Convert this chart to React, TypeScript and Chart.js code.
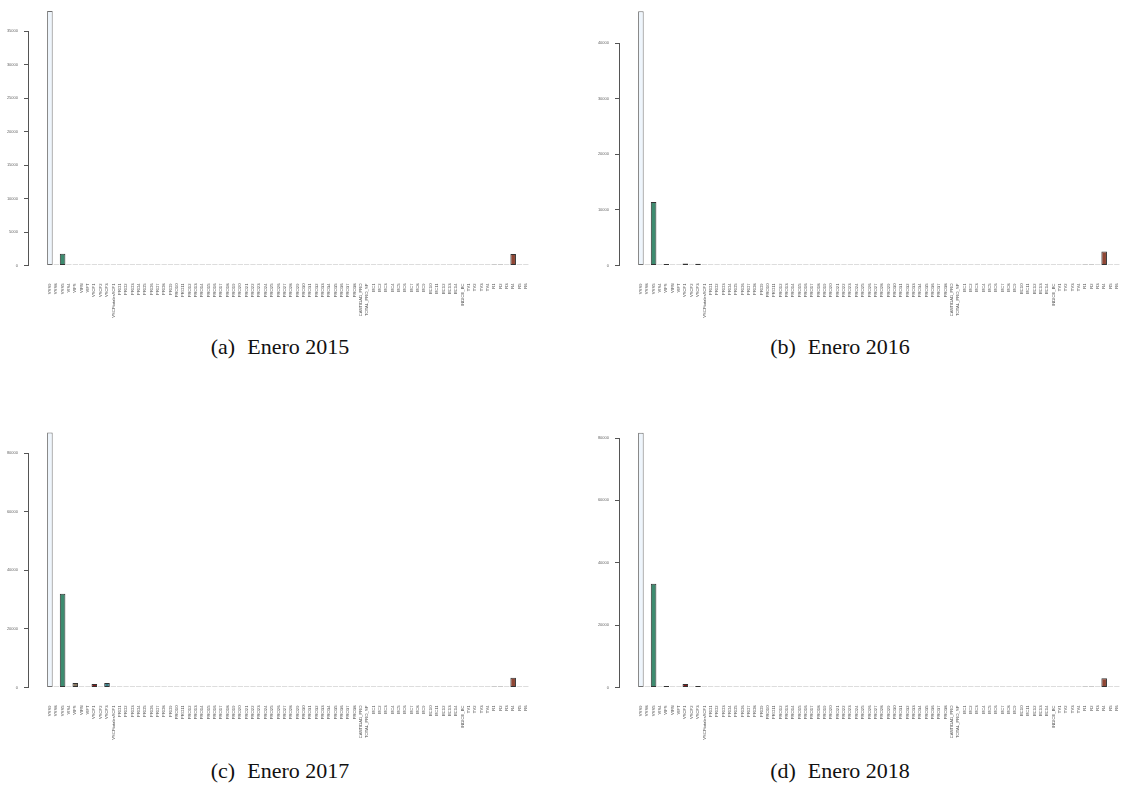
import React, { useEffect, useRef } from "react";
import { Chart, registerables } from "chart.js";

Chart.register(...registerables);

// Variable names along the x axis (one bar per variable)
const variables = [
  "VSS9", "VSS8", "VSS5", "VIS4", "VIFS", "VIFN", "VIFT", "VSCF1", "VSCF2", "VSCF3", "VSCFtotalesSCF1",
  "PRO1", "PRO2", "PRO3", "PRO4", "PRO5", "PRO6", "PRO7", "PRO8", "PRO9", "PRO10",
  "PRO11", "PRO12", "PRO13", "PRO14", "PRO15", "PRO16", "PRO17", "PRO18", "PRO19", "PRO20",
  "PRO21", "PRO22", "PRO23", "PRO24", "PRO25", "PRO26", "PRO27", "PRO28", "PRO29", "PRO30",
  "PRO31", "PRO32", "PRO33", "PRO34", "PRO35", "PRO36", "PRO37", "PRO38",
  "CANTIDAD_PRO", "TOTAL_PRO_SP",
  "BC1", "BC2", "BC3", "BC4", "BC5", "BC6", "BC7", "BC8", "BC9", "BC10", "BC11", "BC12", "BC13", "BC14",
  "INDICE_BC",
  "TV1", "TV2", "TV3", "TV4",
  "R1", "R2", "R3", "R4", "R5", "R6",
];

// January totals per variable
const enero2015 = [
  38000, 0, 1750, 0, 0, 0, 0, 0, 0, 0, 0,
  0, 0, 0, 0, 0, 0, 0, 0, 0, 0, 0, 0, 0, 0, 0, 0, 0, 0, 0,
  0, 0, 0, 0, 0, 0, 0, 0, 0, 0, 0, 0, 0, 0, 0, 0, 0, 0, 0,
  0, 0,
  0, 0, 0, 0, 0, 0, 0, 0, 0, 0, 0, 0, 0, 0,
  0,
  0, 0, 0, 0,
  150, 150, 0, 1700, 0, 0,
];

const enero2016 = [
  45700, 0, 11400, 0, 250, 0, 0, 350, 0, 300, 0,
  0, 0, 0, 0, 0, 0, 0, 0, 0, 0, 0, 0, 0, 0, 0, 0, 0, 0, 0,
  0, 0, 0, 0, 0, 0, 0, 0, 0, 0, 0, 0, 0, 0, 0, 0, 0, 0, 0,
  0, 0,
  0, 0, 0, 0, 0, 0, 0, 0, 0, 0, 0, 0, 0, 0,
  0,
  0, 0, 0, 0,
  150, 150, 0, 2500, 0, 0,
];

const enero2017 = [
  87000, 0, 32000, 0, 1500, 0, 0, 1200, 0, 1500, 0,
  0, 0, 0, 0, 0, 0, 0, 0, 0, 0, 0, 0, 0, 0, 0, 0, 0, 0, 0,
  0, 0, 0, 0, 0, 0, 0, 0, 0, 0, 0, 0, 0, 0, 0, 0, 0, 0, 0,
  0, 0,
  0, 0, 0, 0, 0, 0, 0, 0, 0, 0, 0, 0, 0, 0,
  0,
  0, 0, 0, 0,
  300, 300, 0, 3300, 0, 0,
];

const enero2018 = [
  81700, 0, 33300, 0, 500, 0, 0, 1100, 0, 500, 0,
  0, 0, 0, 0, 0, 0, 0, 0, 0, 0, 0, 0, 0, 0, 0, 0, 0, 0, 0,
  0, 0, 0, 0, 0, 0, 0, 0, 0, 0, 0, 0, 0, 0, 0, 0, 0, 0, 0,
  0, 0,
  0, 0, 0, 0, 0, 0, 0, 0, 0, 0, 0, 0, 0, 0,
  0,
  0, 0, 0, 0,
  300, 300, 0, 3000, 0, 0,
];

// y-axis tick ranges for each panel
const yMax2015 = 35000, yStep2015 = 5000;
const yMax2016 = 40000, yStep2016 = 10000;
const yMax2017 = 80000, yStep2017 = 20000;
const yMax2018 = 80000, yStep2018 = 20000;

// Fill colour per variable (the rest are neutral grey)
const fillByVariable: Record<string, string> = {
  VSS9: "#eef5fc",
  VSS5: "#3d8b6f",
  VIFS: "#8a7a63",
  VSCF1: "#8b1a1a",
  VSCF3: "#3b7e87",
  R1: "#111111",
  R2: "#111111",
  R4: "#8f4634",
};

type PanelProps = {
  left: number;
  top: number;
  plotTop: number;
  values: number[];
  yMax: number;
  yStep: number;
};

const PANEL_W = 560;
const PANEL_H = 330;

function BarPanel({ left, top, plotTop, values, yMax, yStep }: PanelProps) {
  const ref = useRef<HTMLCanvasElement>(null);

  useEffect(() => {
    if (!ref.current) return;
    const n = variables.length;
    // bar layout: width 1, gap 0.2, with 4% padding on both sides of the bar run
    const span = 1.2 * n - 0.2;
    const ext = 0.04 * span;
    const xMin = (0.2 - ext - 0.7) / 1.2;
    const xMax = (1.2 * n + ext - 0.7) / 1.2;

    const fills = variables.map((v) => fillByVariable[v] ?? "#9a9a9a");
    const borders = values.map((v, i) =>
      v === 0 ? "#7a7a7a" : i === 0 ? "#6f6f6f" : "#333333"
    );

    const chart = new Chart(ref.current, {
      type: "bar",
      data: {
        datasets: [
          {
            data: values.map((v, i) => ({ x: i, y: v })),
            backgroundColor: fills,
            borderColor: borders,
            borderWidth: 1,
            borderSkipped: false,
            minBarLength: 1,
            barPercentage: 0.88,
            categoryPercentage: 1,
            clip: false,
          } as any,
        ],
      },
      options: {
        responsive: false,
        animation: false,
        devicePixelRatio: 1,
        layout: { padding: { top: plotTop, right: 10, left: 0, bottom: 0 } },
        plugins: { legend: { display: false }, tooltip: { enabled: false } },
        scales: {
          x: {
            type: "linear",
            min: xMin,
            max: xMax,
            offset: false,
            grid: { display: false },
            border: { display: false },
            ticks: {
              stepSize: 1,
              autoSkip: false,
              includeBounds: false,
              maxRotation: 90,
              minRotation: 90,
              padding: 10,
              color: "#4a4a4a",
              font: { family: "'Liberation Sans', Arial, sans-serif", size: 4.2 },
              callback: (val: any) => {
                const k = Number(val);
                return Number.isInteger(k) && k >= 0 && k < n ? variables[k] : "";
              },
            },
            afterFit: (s: any) => {
              s.height = 64.5;
            },
          },
          y: {
            min: 0,
            max: yMax,
            grid: {
              drawOnChartArea: false,
              drawTicks: true,
              tickLength: 4,
              color: "#555555",
            },
            border: { display: true, color: "#555555" },
            ticks: {
              stepSize: yStep,
              padding: 6,
              color: "#666666",
              font: { family: "'Liberation Sans', Arial, sans-serif", size: 4 },
              callback: (val: any) => String(val),
            },
            afterFit: (s: any) => {
              s.width = 28;
            },
          },
        },
      } as any,
    });
    return () => chart.destroy();
  }, [values, yMax, yStep, plotTop]);

  return (
    <canvas
      ref={ref}
      width={PANEL_W}
      height={PANEL_H}
      style={{ position: "absolute", left, top, width: PANEL_W, height: PANEL_H, display: "block" }}
    />
  );
}

function Caption({ cx, cy, tag, text }: { cx: number; cy: number; tag: string; text: string }) {
  return (
    <div
      style={{
        position: "absolute",
        left: cx - 150,
        top: cy - 14,
        width: 300,
        lineHeight: "28px",
        textAlign: "center",
        fontFamily: "'Liberation Serif', 'Times New Roman', serif",
        fontSize: 22,
        color: "#111",
        whiteSpace: "nowrap",
      }}
    >
      <span>{tag}</span>
      <span style={{ marginLeft: 12 }}>{text}</span>
    </div>
  );
}

export default function App() {
  return (
    <div
      style={{
        position: "absolute",
        left: 0,
        top: 0,
        width: 1122,
        height: 789,
        background: "#ffffff",
        overflow: "hidden",
      }}
    >
      <BarPanel left={0} top={0} plotTop={31} values={enero2015} yMax={yMax2015} yStep={yStep2015} />
      <BarPanel left={591} top={0} plotTop={43} values={enero2016} yMax={yMax2016} yStep={yStep2016} />
      <BarPanel left={0} top={422} plotTop={31} values={enero2017} yMax={yMax2017} yStep={yStep2017} />
      <BarPanel left={591} top={422} plotTop={16} values={enero2018} yMax={yMax2018} yStep={yStep2018} />
      <Caption cx={280} cy={347} tag="(a)" text="Enero 2015" />
      <Caption cx={840} cy={347} tag="(b)" text="Enero 2016" />
      <Caption cx={280} cy={771} tag="(c)" text="Enero 2017" />
      <Caption cx={840} cy={771} tag="(d)" text="Enero 2018" />
    </div>
  );
}
